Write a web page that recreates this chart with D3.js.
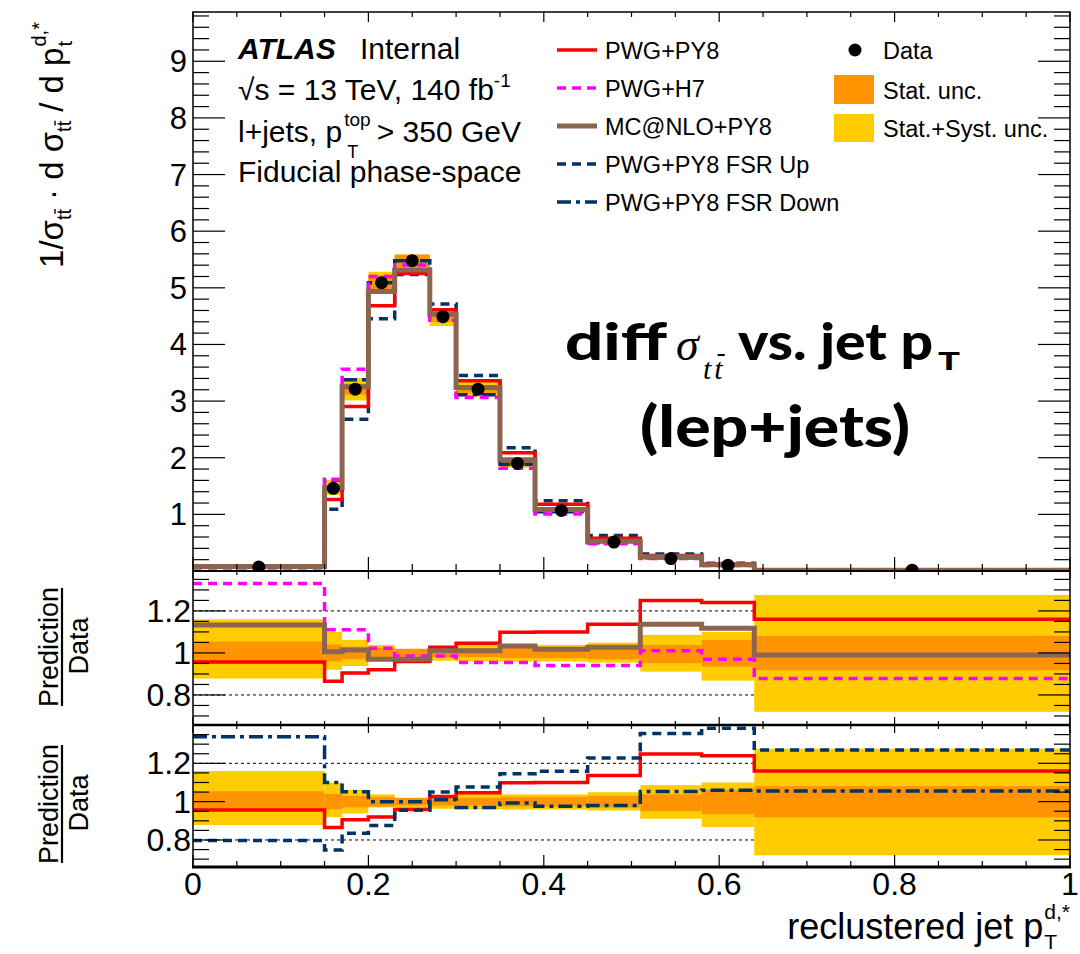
<!DOCTYPE html>
<html><head><meta charset="utf-8">
<script src="https://cdn.jsdelivr.net/npm/d3@7"></script>
<style>
body{margin:0;background:#fff}
svg{display:block}
text{font-family:"Liberation Sans",Arial,Helvetica,sans-serif;fill:#000}
</style></head>
<body><svg id="c" width="1080" height="954"></svg>
<script>
// ---------------- data ----------------
const binEdges = [0, 0.15, 0.17, 0.2, 0.23, 0.27, 0.3, 0.35, 0.39, 0.45, 0.51, 0.58, 0.64, 1.0];
const dataValues = [0.07, 1.46, 3.21, 5.09, 5.48, 4.49, 3.21, 1.90, 1.07, 0.51, 0.22, 0.10, 0.015];
// main panel predictions
const pwgPy8   = [0.067, 1.263, 2.905, 4.683, 5.255, 4.611, 3.358, 2.086, 1.177, 0.580, 0.275, 0.124, 0.017];
const pwgH7    = [0.093, 1.621, 3.563, 5.202, 5.403, 4.427, 3.062, 1.813, 1.006, 0.479, 0.222, 0.097, 0.013];
const mcnloPy8 = [0.079, 1.469, 3.255, 4.937, 5.316, 4.535, 3.242, 1.963, 1.088, 0.524, 0.250, 0.112, 0.015];
const fsrUp    = [0.056, 1.092, 2.680, 4.454, 5.233, 4.715, 3.454, 2.176, 1.240, 0.626, 0.298, 0.138, 0.019];
const fsrDown  = [0.094, 1.606, 3.377, 5.090, 5.480, 4.535, 3.110, 1.887, 1.044, 0.500, 0.232, 0.106, 0.016];
// ratio panels (prediction / data)
const ratioPwgPy8   = [0.957, 0.865, 0.905, 0.92, 0.959, 1.027, 1.046, 1.098, 1.10, 1.137, 1.249, 1.24, 1.16];
const ratioPwgH7    = [1.33, 1.11, 1.11, 1.022, 0.986, 0.986, 0.954, 0.954, 0.94, 0.94, 1.01, 0.97, 0.878];
const ratioMcnloPy8 = [1.133, 1.006, 1.014, 0.97, 0.97, 1.01, 1.01, 1.033, 1.017, 1.027, 1.137, 1.117, 0.99];
const ratioFsrUp    = [0.797, 0.748, 0.835, 0.875, 0.955, 1.05, 1.076, 1.145, 1.159, 1.228, 1.355, 1.383, 1.269];
const ratioFsrDown  = [1.339, 1.10, 1.052, 1.0, 1.0, 1.01, 0.969, 0.993, 0.976, 0.98, 1.053, 1.059, 1.055];
// relative uncertainty bands
const statUp   = [1.054, 1.04, 1.03, 1.025, 1.02, 1.02, 1.02, 1.025, 1.025, 1.03, 1.038, 1.062, 1.081];
const statDown = [0.951, 0.96, 0.97, 0.975, 0.98, 0.98, 0.98, 0.975, 0.975, 0.97, 0.951, 0.935, 0.918];
const totUp    = [1.16, 1.10, 1.062, 1.038, 1.014, 1.03, 1.045, 1.038, 1.038, 1.049, 1.086, 1.10, 1.276];
const totDown  = [0.878, 0.92, 0.938, 0.97, 0.967, 0.963, 0.96, 0.959, 0.959, 0.954, 0.911, 0.868, 0.72];
// ticks
const mainYTicks = [1, 2, 3, 4, 5, 6, 7, 8, 9];
const ratioYTicks = [0.8, 1, 1.2];
const ratioYTickLabels = ["0.8", "1", "1.2"];
const xTicks = [0, 0.2, 0.4, 0.6, 0.8, 1];
const xTickLabels = ["0", "0.2", "0.4", "0.6", "0.8", "1"];
const legendLabels = ["PWG+PY8", "PWG+H7", "MC@NLO+PY8", "PWG+PY8 FSR Up", "PWG+PY8 FSR Down"];

// ---------------- layout ----------------
const svg = d3.select("#c");
const X0 = 193, X1 = 1070;
const mainTop = 12, mainBot = 571, r1Top = 571, r1Bot = 725, r2Top = 725, r2Bot = 867;
const x = d3.scaleLinear().domain([0, 1]).range([X0, X1]);
const yMain = d3.scaleLinear().domain([0, 9.87]).range([mainBot, mainTop]);
const yR1 = d3.scaleLinear().domain([0.657, 1.39]).range([r1Bot, r1Top]);
const yR2 = d3.scaleLinear().domain([0.659, 1.40]).range([r2Bot, r2Top]);

const C = {red:"#ff0000", mag:"#ff00ff", brown:"#8c6450", navy:"#003366", orange:"#ff9400", yellow:"#ffcc00"};
const styles = {
  py8:  {stroke:C.red, w:3.5, dash:null},
  h7:   {stroke:C.mag, w:3.5, dash:"9,6"},
  nlo:  {stroke:C.brown, w:5, dash:null},
  up:   {stroke:C.navy, w:3.5, dash:"9,6"},
  down: {stroke:C.navy, w:3.5, dash:"14,5,4,5"}
};

const defs = svg.append("defs");
function clip(id, y0, y1){
  defs.append("clipPath").attr("id", id).append("rect")
    .attr("x", X0).attr("y", y0).attr("width", X1 - X0).attr("height", y1 - y0);
}
clip("cm", mainTop, mainBot); clip("c1", r1Top, r1Bot); clip("c2", r2Top, r2Bot);

function stepPts(vals){
  const p = [];
  vals.forEach((v, i) => { p.push([binEdges[i], v]); p.push([binEdges[i+1], v]); });
  return p;
}
function drawHist(g, vals, ys, st){
  const line = d3.line().x(d => x(d[0])).y(d => ys(d[1]));
  g.append("path").attr("d", line(stepPts(vals))).attr("fill", "none")
    .attr("stroke", st.stroke).attr("stroke-width", st.w)
    .attr("stroke-dasharray", st.dash).attr("stroke-linejoin", "miter");
}
function drawBands(g, ys, lo, hi, color){
  g.selectAll(null).data(dataValues).enter().append("rect")
    .attr("x", (d, i) => x(binEdges[i])).attr("width", (d, i) => x(binEdges[i+1]) - x(binEdges[i]))
    .attr("y", (d, i) => ys(hi(i))).attr("height", (d, i) => ys(lo(i)) - ys(hi(i)))
    .attr("fill", color);
}

// ---------------- main panel ----------------
const gm = svg.append("g").attr("clip-path", "url(#cm)");
drawBands(gm, yMain, i => dataValues[i]*totDown[i], i => dataValues[i]*totUp[i], C.yellow);
drawBands(gm, yMain, i => dataValues[i]*statDown[i], i => dataValues[i]*statUp[i], C.orange);
drawHist(gm, fsrUp, yMain, styles.up);
drawHist(gm, fsrDown, yMain, styles.down);
drawHist(gm, pwgH7, yMain, styles.h7);
drawHist(gm, pwgPy8, yMain, styles.py8);
drawHist(gm, mcnloPy8, yMain, styles.nlo);
gm.selectAll(null).data(dataValues).enter().append("circle")
  .attr("cx", (d, i) => x((binEdges[i] + binEdges[i+1]) / 2)).attr("cy", d => yMain(d))
  .attr("r", 6.5).attr("fill", "#000");

// ---------------- ratio panels ----------------
function ratioPanel(id, ys, series){
  const g = svg.append("g").attr("clip-path", `url(#${id})`);
  [0.8, 1.2].forEach(v => g.append("line").attr("x1", X0).attr("x2", X1)
    .attr("y1", ys(v)).attr("y2", ys(v)).attr("stroke", "#000").attr("stroke-width", 1)
    .attr("stroke-dasharray", "3,3"));
  drawBands(g, ys, i => totDown[i], i => totUp[i], C.yellow);
  drawBands(g, ys, i => statDown[i], i => statUp[i], C.orange);
  series.forEach(s => drawHist(g, s[0], ys, s[1]));
}
ratioPanel("c1", yR1, [[ratioPwgPy8, styles.py8], [ratioPwgH7, styles.h7], [ratioMcnloPy8, styles.nlo]]);
ratioPanel("c2", yR2, [[ratioPwgPy8, styles.py8], [ratioFsrUp, styles.up], [ratioFsrDown, styles.down]]);

// ---------------- axes / frames ----------------
const ax = svg.append("g");
function tick(x1, y1, x2, y2, w){ ax.append("line").attr("x1", x1).attr("y1", y1).attr("x2", x2).attr("y2", y2).attr("stroke", "#000").attr("stroke-width", w || 1.2); }
const minorX = d3.range(0, 1.0001, 0.05);
function xTicksAt(yy, dir, maj, min){
  minorX.forEach(v => {
    const isMaj = Math.abs(v*5 - Math.round(v*5)) < 1e-6;
    tick(x(v), yy, x(v), yy + dir*(isMaj ? maj : min));
  });
}
d3.range(0, 9.81, 0.2).forEach(v => {
  const isMaj = Math.abs(v - Math.round(v)) < 1e-6;
  const L = isMaj ? 32 : 16;
  tick(X0, yMain(v), X0 + L, yMain(v));
  tick(X1, yMain(v), X1 - L, yMain(v));
});
[[yR1, 0.7, 1.35], [yR2, 0.7, 1.4]].forEach(([ys, a, b]) => {
  d3.range(a, b + 0.001, 0.05).forEach(v => {
    const isMaj = Math.abs(v*5 - Math.round(v*5)) < 1e-6;
    const L = isMaj ? 32 : 16;
    tick(X0, ys(v), X0 + L, ys(v));
    tick(X1, ys(v), X1 - L, ys(v));
  });
});
xTicksAt(mainTop, 1, 10, 5);
xTicksAt(mainBot, -1, 14, 7);
xTicksAt(r1Top, 1, 8, 4);
xTicksAt(r1Bot, -1, 8, 4);
xTicksAt(r2Top, 1, 8, 4);
xTicksAt(r2Bot, -1, 12, 6);
ax.append("rect").attr("x", X0).attr("y", mainTop).attr("width", X1 - X0).attr("height", r2Bot - mainTop)
  .attr("fill", "none").attr("stroke", "#000").attr("stroke-width", 1.5);
tick(X0, mainBot, X1, mainBot, 2);
tick(X0, r1Bot, X1, r1Bot, 2.5);
tick(X0 - 1, r2Bot, X1 + 1, r2Bot, 3);

const lab = svg.append("g");
mainYTicks.forEach(v => lab.append("text").attr("x", 187).attr("y", yMain(v) + 11)
  .attr("text-anchor", "end").attr("font-size", 31).text(v));
[yR1, yR2].forEach(ys => ratioYTicks.forEach((v, i) => lab.append("text").attr("x", 191).attr("y", ys(v) + 11)
  .attr("text-anchor", "end").attr("font-size", 32).text(ratioYTickLabels[i])));
xTicks.forEach((v, i) => lab.append("text").attr("x", x(v)).attr("y", 895)
  .attr("text-anchor", "middle").attr("font-size", 32).text(xTickLabels[i]));

// ---------------- rich text helper ----------------
function rich(g, segs, x0, y0){
  let xx = x0, maxAdv = 0;
  segs.forEach(s => {
    const t = g.append("text").attr("x", xx + (s.dx || 0)).attr("y", y0 + (s.dy || 0))
      .attr("font-size", s.size).text(s.t);
    if (s.family) t.style("font-family", s.family);
    if (s.italic) t.attr("font-style", "italic");
    if (s.bold) t.attr("font-weight", "bold");
    const w = t.node().getComputedTextLength();
    if (s.bar){
      const tmp = g.append("text").attr("font-size", s.size).text("t");
      if (s.family) tmp.style("font-family", s.family);
      if (s.italic) tmp.attr("font-style", "italic");
      const wt = tmp.node().getComputedTextLength(); tmp.remove();
      const bx = xx + (s.dx || 0) + w - wt + (s.barShift || 0);
      const by = y0 + (s.dy || 0) - s.size*0.8;
      g.append("line").attr("x1", bx + wt*0.15).attr("x2", bx + wt*1.0)
        .attr("y1", by).attr("y2", by)
        .attr("stroke", "#000").attr("stroke-width", Math.max(1, s.size*0.07));
    }
    if (s.noAdvance) { maxAdv = Math.max(maxAdv, (s.dx || 0) + w); }
    else { xx += Math.max((s.dx || 0) + w, maxAdv); maxAdv = 0; }
  });
  return xx - x0;
}

// y-axis title (rotated)
const yt = svg.append("g").attr("transform", "translate(63,145) rotate(-90)");
const ytIn = yt.append("g");
const ytw = rich(ytIn, [
  {t:"1/σ", size:33},
  {t:"tt", size:20, dy:8, bar:true},
  {t:"· d σ", size:33, dx:9},
  {t:"tt", size:20, dy:8, bar:true},
  {t:"/ d p", size:33, dx:9},
  {t:"t", size:20, dy:9, dx:1, noAdvance:true},
  {t:"d,*", size:20, dy:-17, dx:1}
], 0, 0);
ytIn.attr("transform", `translate(${-ytw/2},0)`);

// ratio titles
function fracTitle(cy){
  svg.append("text").attr("transform", `translate(58,${cy}) rotate(-90)`).attr("text-anchor", "middle")
    .attr("font-size", 27).text("Prediction");
  svg.append("text").attr("transform", `translate(88,${cy - 1}) rotate(-90)`).attr("text-anchor", "middle")
    .attr("font-size", 27).text("Data");
  svg.append("line").attr("x1", 62).attr("x2", 62).attr("y1", cy - 59).attr("y2", cy + 59)
    .attr("stroke", "#000").attr("stroke-width", 2.2);
}
fracTitle(647);
fracTitle(804);

// x-axis title
const xtG = svg.append("g");
const xtw = rich(xtG, [
  {t:"reclustered jet p", size:36},
  {t:"T", size:21, dy:10, dx:1, noAdvance:true},
  {t:"d,*", size:21, dy:-20, dx:1}
], 0, 939);
xtG.attr("transform", `translate(${1070 - xtw},0)`);

// ATLAS label
const at = svg.append("g");
at.append("text").attr("x", 238).attr("y", 59).attr("font-size", 30).attr("font-weight", "bold")
  .attr("font-style", "italic").text("ATLAS");
at.append("text").attr("x", 360).attr("y", 59).attr("font-size", 30).text("Internal");
rich(at, [
  {t:"√s = 13 TeV, 140 fb", size:30},
  {t:"-1", size:19, dy:-13}
], 238, 100);
rich(at, [
  {t:"l+jets, p", size:30},
  {t:"top", size:19, dy:-16, dx:2, noAdvance:true},
  {t:"T", size:18, dy:16, dx:5},
  {t:"> 350 GeV", size:30, dx:6}
], 238, 142);
at.append("text").attr("x", 238).attr("y", 182).attr("font-size", 30).text("Fiducial phase-space");

// legend
const lg = svg.append("g");
const lstyles = [styles.py8, styles.h7, styles.nlo, styles.up, styles.down];
legendLabels.forEach((l, i) => {
  const cy = 50 + i*38;
  const st = lstyles[i];
  lg.append("line").attr("x1", 557).attr("x2", 597).attr("y1", cy).attr("y2", cy)
    .attr("stroke", st.stroke).attr("stroke-width", st.w).attr("stroke-dasharray", st.dash);
  lg.append("text").attr("x", 605).attr("y", cy + 8.5).attr("font-size", 23.5).text(l);
});
lg.append("circle").attr("cx", 855).attr("cy", 50).attr("r", 6.5).attr("fill", "#000");
lg.append("text").attr("x", 883).attr("y", 58.5).attr("font-size", 23.5).text("Data");
lg.append("rect").attr("x", 834).attr("y", 75).attr("width", 40).attr("height", 29).attr("fill", C.orange);
lg.append("text").attr("x", 883).attr("y", 98.5).attr("font-size", 23.5).text("Stat. unc.");
lg.append("rect").attr("x", 834).attr("y", 114).attr("width", 40).attr("height", 28).attr("fill", C.yellow);
lg.append("text").attr("x", 883).attr("y", 136.5).attr("font-size", 23.5).text("Stat.+Syst. unc.");

// annotation
const an = svg.append("g");
const bigFont = "Lato, 'Open Sans', sans-serif";
const serif = "'Liberation Serif', 'DejaVu Serif', serif";
an.append("text").attr("x", 565).attr("y", 360).attr("font-size", 52).attr("font-weight", 900)
  .style("font-family", bigFont).attr("textLength", 102).attr("lengthAdjust", "spacingAndGlyphs").text("diff");
an.append("text").attr("x", 676).attr("y", 360).attr("font-size", 46).attr("font-style", "italic")
  .style("font-family", serif).text("σ");
rich(an, [
  {t:"t", size:30, italic:true, family:serif},
  {t:"t", size:30, italic:true, family:serif, dx:3, bar:true, barShift:2}
], 703, 379);
an.append("text").attr("x", 738).attr("y", 360).attr("font-size", 52).attr("font-weight", 900)
  .style("font-family", bigFont).attr("textLength", 195).attr("lengthAdjust", "spacingAndGlyphs").text("vs. jet p");
an.append("text").attr("x", 938).attr("y", 370).attr("font-size", 24).attr("font-weight", 900)
  .style("font-family", bigFont).attr("textLength", 22).attr("lengthAdjust", "spacingAndGlyphs").text("T");
an.append("text").attr("x", 640).attr("y", 447).attr("font-size", 58).attr("font-weight", 900)
  .style("font-family", bigFont).attr("textLength", 270).attr("lengthAdjust", "spacingAndGlyphs").text("(lep+jets)");
</script>
</body></html>
